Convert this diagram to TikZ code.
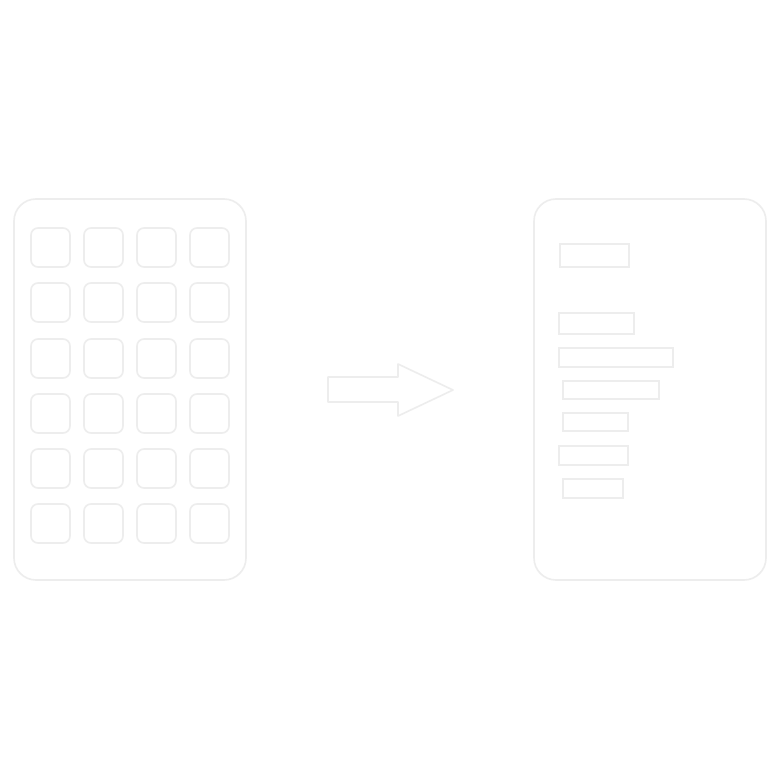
\documentclass[tikz,border=0pt]{standalone}
\begin{document}
\begin{tikzpicture}[x=1pt,y=-1pt,
  faint/.style={draw=black!7,line width=1.6pt},
  panel/.style={faint,rounded corners=22pt},
  tile/.style={faint,rounded corners=7pt},
  bar/.style={faint,line width=1.4pt}]
\useasboundingbox[fill=white] (0,0) rectangle (778,778);
% left panel
\draw[panel] (14,199) rectangle (246,580);
\foreach \c/\x in {1/31,2/84,3/137,4/190}{
  \foreach \r/\y in {1/228,2/283,3/339,4/394,5/449,6/504}{
    \draw[tile] (\x,\y) rectangle ++(39,39);
  }
}
% arrow
\draw[faint,line join=round] (328,377) -- (398,377) -- (398,364) -- (453,390) -- (398,416) -- (398,402) -- (328,402) -- cycle;
% right panel
\draw[panel] (534,199) rectangle (766,580);
\draw[bar] (560,244) rectangle (629,267);
\draw[bar] (559,313) rectangle (634,334);
\draw[bar] (559,348) rectangle (673,367);
\draw[bar] (563,381) rectangle (659,399);
\draw[bar] (563,413) rectangle (628,431);
\draw[bar] (559,446) rectangle (628,465);
\draw[bar] (563,479) rectangle (623,498);
\end{tikzpicture}
\end{document}
